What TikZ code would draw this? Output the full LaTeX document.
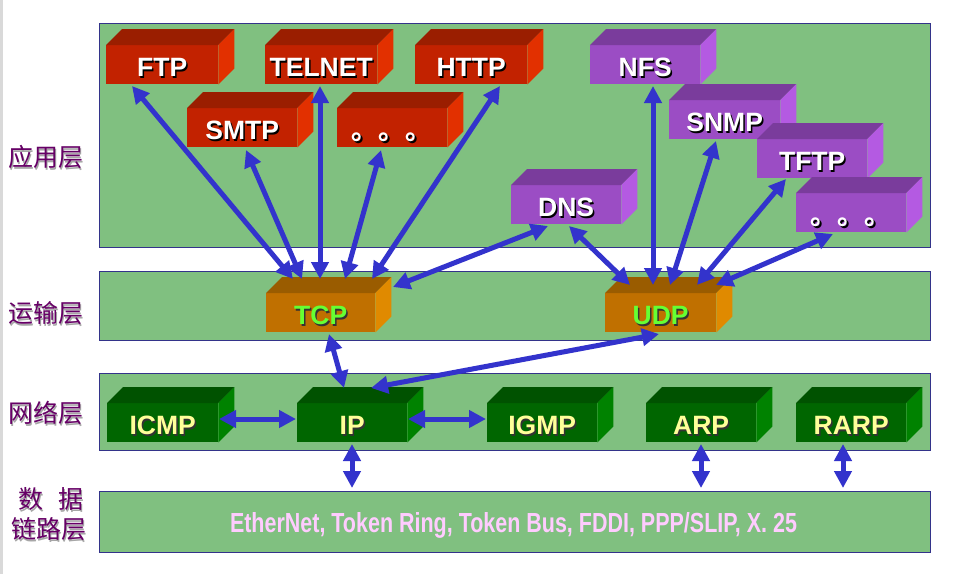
\documentclass[tikz,border=0pt]{standalone}
\usepackage{fontspec}
\setmainfont{Liberation Sans}
\newfontfamily\cjk{Noto Sans CJK SC}
\usetikzlibrary{arrows.meta,calc}
\definecolor{panelgreen}{HTML}{80C080}
\definecolor{panelborder}{HTML}{33338A}
\definecolor{arrowblue}{HTML}{3333CC}
\definecolor{redF}{HTML}{C22200}
\definecolor{redT}{HTML}{9A1E00}
\definecolor{redS}{HTML}{E23000}
\definecolor{purF}{HTML}{9B4DC4}
\definecolor{purT}{HTML}{7A3C9C}
\definecolor{purS}{HTML}{B45AE2}
\definecolor{orF}{HTML}{C07000}
\definecolor{orT}{HTML}{9A5C00}
\definecolor{orS}{HTML}{E08A00}
\definecolor{grF}{HTML}{006600}
\definecolor{grT}{HTML}{005200}
\definecolor{grS}{HTML}{008200}
\definecolor{tcptext}{HTML}{66FF33}
\definecolor{nettext}{HTML}{FFFF99}
\definecolor{linktext}{HTML}{FFCCFF}
\definecolor{layertext}{HTML}{660066}
\newcommand\shtxt[2]{\rlap{\hspace{1.5pt}\raisebox{-1.5pt}{\color{#1}#2}}#2}
\tikzset{
  panel/.style={draw=panelborder, line width=1pt, fill=panelgreen, anchor=north west, inner sep=0pt, minimum width=831pt},
  box/.style={anchor=north west, minimum height=39pt, inner sep=0pt, text height=24pt, text depth=0pt, font=\bfseries\fontsize{26.5}{26.5}\selectfont},
  arr/.style={{Triangle[length=17pt,width=17pt]}-{Triangle[length=17pt,width=17pt]}, line width=5pt, draw=arrowblue},
  layer/.style={font=\cjk\fontsize{25}{27}\selectfont, text=layertext, inner sep=0pt}
}
% name, x, y, width, front, top, side, text colour, text
\newcommand\boxthree[9]{%
  \node[box, fill=#5, minimum width=#4pt, text=#8] (#1) at (#2,#3) {#9};
  \fill[#6] (#1.north west) -- ($(#1.north west)+(16,-16)$) -- ($(#1.north east)+(16,-16)$) -- (#1.north east) -- cycle;
  \fill[#7] (#1.north east) -- ($(#1.north east)+(16,-16)$) -- ($(#1.south east)+(16,-16)$) -- (#1.south east) -- cycle;
}
\newcommand\mydots{{\cjk\fontsize{27}{27}\selectfont\shtxt{black}{。。。}}}
\begin{document}
\begin{tikzpicture}[x=1pt,y=-1pt]
\useasboundingbox (0,0) rectangle (954,574);
\fill[white] (0,0) rectangle (954,574);
\fill[black!15] (0,0) rectangle (3,574);
% panels
\node[panel, minimum height=224pt] (apppanel) at (99,23) {};
\node[panel, minimum height=69pt] (tppanel) at (99,271) {};
\node[panel, minimum height=77pt] (netpanel) at (99,373) {};
\node[panel, minimum height=61pt] (dlpanel) at (99,491) {};
\node[text=linktext, font=\bfseries, anchor=base, inner sep=0pt] (dltext) at (513.5,532) {\resizebox{567pt}{20pt}{EtherNet, Token Ring, Token Bus, FDDI, PPP/SLIP, X. 25}};
% layer labels
\node[layer] (lapp) at (46,158) {\shtxt{black!35}{应用层}};
\node[layer] (ltp) at (46,314) {\shtxt{black!35}{运输层}};
\node[layer] (lnet) at (46,414) {\shtxt{black!35}{网络层}};
\node[layer] (ldl1) at (51,500) {\shtxt{black!35}{数\hspace{0.6em}据}};
\node[layer] (ldl2) at (49,530) {\shtxt{black!35}{链路层}};
% application boxes
\boxthree{ftp}{106}{45}{112}{redF}{redT}{redS}{white}{\shtxt{black}{FTP}}
\boxthree{telnet}{265}{45}{112}{redF}{redT}{redS}{white}{\shtxt{black}{TELNET}}
\boxthree{http}{415}{45}{112}{redF}{redT}{redS}{white}{\shtxt{black}{HTTP}}
\boxthree{smtp}{187}{108}{110}{redF}{redT}{redS}{white}{\shtxt{black}{SMTP}}
\boxthree{reddots}{337}{108}{110}{redF}{redT}{redS}{white}{\mydots}
\boxthree{nfs}{590}{45}{110}{purF}{purT}{purS}{white}{\shtxt{black}{NFS}}
\boxthree{snmp}{669}{100}{111}{purF}{purT}{purS}{white}{\shtxt{black}{SNMP}}
\boxthree{tftp}{757}{139}{110}{purF}{purT}{purS}{white}{\shtxt{black}{TFTP}}
\boxthree{dns}{511}{185}{110}{purF}{purT}{purS}{white}{\shtxt{black}{DNS}}
\boxthree{purdots}{796}{193}{110}{purF}{purT}{purS}{white}{\mydots}
% transport
\boxthree{tcp}{266}{293}{109}{orF}{orT}{orS}{tcptext}{\shtxt{black!80}{TCP}}
\boxthree{udp}{605}{293}{111}{orF}{orT}{orS}{tcptext}{\shtxt{black!80}{UDP}}
% network
\boxthree{icmp}{107}{403}{111}{grF}{grT}{grS}{nettext}{\shtxt{black!80}{ICMP}}
\boxthree{ip}{297}{403}{110}{grF}{grT}{grS}{nettext}{\shtxt{black!80}{IP}}
\boxthree{igmp}{487}{403}{110}{grF}{grT}{grS}{nettext}{\shtxt{black!80}{IGMP}}
\boxthree{arp}{646}{403}{110}{grF}{grT}{grS}{nettext}{\shtxt{black!80}{ARP}}
\boxthree{rarp}{796}{403}{110}{grF}{grT}{grS}{nettext}{\shtxt{black!80}{RARP}}
% arrows
\draw[arr] ($(ftp.north west)+(26,41)$) -- ($(tcp.north west)+(27,-14)$);
\draw[arr] ($(smtp.north west)+(59,42)$) -- ($(tcp.north west)+(36,-14)$);
\draw[arr] ($(telnet.north west)+(55,41)$) -- ($(tcp.north west)+(54,-14)$);
\draw[arr] ($(reddots.north west)+(44,42)$) -- ($(tcp.north west)+(79,-14)$);
\draw[arr] ($(http.north west)+(85,41)$) -- ($(tcp.north west)+(106,-14)$);
\draw[arr] ($(dns.north west)+(37,41)$) -- ($(tcp.north west)+(127,-6)$);
\draw[arr] ($(dns.north west)+(58,41)$) -- ($(udp.north west)+(25,-8)$);
\draw[arr] ($(nfs.north west)+(63,41)$) -- ($(udp.north west)+(48,-8)$);
\draw[arr] ($(snmp.north west)+(47,41)$) -- ($(udp.north west)+(65,-8)$);
\draw[arr] ($(tftp.north west)+(29,40)$) -- ($(udp.north west)+(92,-8)$);
\draw[arr] ($(purdots.north west)+(37,41)$) -- ($(udp.north west)+(111,-8)$);
\draw[arr] ($(tcp.north west)+(63,41)$) -- ($(ip.north west)+(47,-15)$);
\draw[arr] ($(udp.north west)+(54,41)$) -- ($(ip.north west)+(74,-15)$);
\draw[arr] ($(icmp.north west)+(112,16)$) -- ($(ip.north west)+(-1,16)$);
\draw[arr] ($(ip.north west)+(111,16)$) -- ($(igmp.north west)+(-1,16)$);
\draw[arr] ($(ip.north west)+(55,41)$) -- ($(dlpanel.north west)+(253,-3)$);
\draw[arr] ($(arp.north west)+(55,41)$) -- ($(dlpanel.north west)+(602,-3)$);
\draw[arr] ($(rarp.north west)+(47,41)$) -- ($(dlpanel.north west)+(744,-3)$);
\end{tikzpicture}
\end{document}
